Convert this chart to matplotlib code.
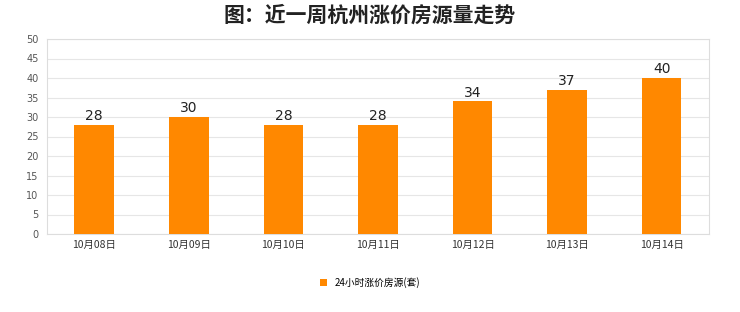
import matplotlib
matplotlib.use("Agg")
import matplotlib.pyplot as plt
from matplotlib.patches import Patch

plt.rcParams['font.family'] = ['DejaVu Sans', 'Noto Sans CJK SC']

categories = ["10月08日", "10月09日", "10月10日", "10月11日", "10月12日", "10月13日", "10月14日"]
values = [28, 30, 28, 28, 34, 37, 40]
series_name = "24小时涨价房源(套)"
title = "图：近一周杭州涨价房源量走势"

cjk = ['Noto Sans CJK SC', 'DejaVu Sans']

fig = plt.figure(figsize=(7.4, 3.12), dpi=100)
ax = fig.add_axes([0.0635, 0.25, 0.8945, 0.625])
color = "#FF8800"
x = list(range(len(categories)))
ax.bar(x, values, width=0.42, color=color, zorder=3)
for xi, v in zip(x, values):
    ax.text(xi, v + 0.4, str(v), ha='center', va='bottom', fontsize=10, color='#222222', zorder=4)

ax.set_xlim(-0.5, len(categories) - 0.5)
ax.set_ylim(0, 50)
ax.set_yticks(range(0, 51, 5))
ax.set_xticks(x)
ax.set_xticklabels(categories, fontsize=7.5, color='#333333', family=cjk)
ax.tick_params(axis='y', labelsize=7, colors='#555555', length=0, pad=6)
ax.tick_params(axis='x', length=0, pad=4)
ax.grid(axis='y', color='#e6e6e6', linewidth=0.8, zorder=0)
for s in ax.spines.values():
    s.set_color('#dddddd')
    s.set_linewidth(0.8)

fig.text(0.5, 0.952, title, ha='center', va='center', fontsize=15, fontweight='bold',
         color='#222222', family=cjk)

handle = Patch(facecolor=color, edgecolor='none')
fig.legend([handle], [series_name], loc='center', bbox_to_anchor=(0.5, 0.095), frameon=False,
           prop={'family': cjk, 'size': 7}, handlelength=0.7, handleheight=0.7, handletextpad=0.8)

fig.savefig("out.png", dpi=100, facecolor='white')
